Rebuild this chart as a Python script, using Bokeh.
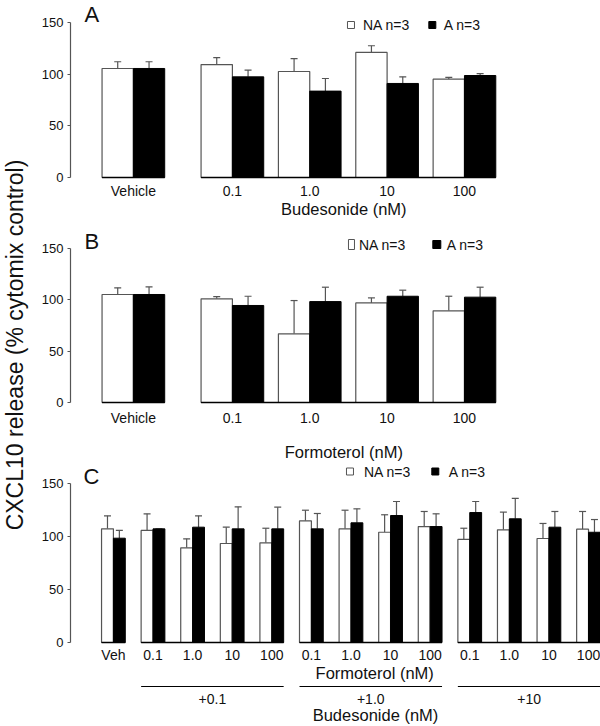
import math
from bokeh.plotting import figure
from bokeh.layouts import row, column
from bokeh.models import Range1d, FixedTicker
from bokeh.core.properties import value
from bokeh.embed import file_html
from bokeh.resources import INLINE

# ---------------- data ----------------
cats_ab = ["Vehicle", "0.1", "1.0", "10", "100"]

# Panel A: Budesonide
a_na = [105.5, 109.3, 102.6, 121.0, 95.2]
a_na_err = [6.5, 6.7, 12.4, 6.5, 1.6]
a_a = [105.5, 97.4, 83.6, 91.0, 98.7]
a_a_err = [6.5, 6.6, 12.2, 6.4, 1.9]

# Panel B: Formoterol
b_na = [105.2, 101.0, 66.9, 97.0, 89.3]
b_na_err = [6.5, 2.2, 32.4, 4.9, 14.2]
b_a = [105.2, 94.5, 98.3, 103.5, 102.6]
b_a_err = [7.4, 9.0, 14.0, 5.9, 9.7]

# Panel C: Formoterol + Budesonide
cats_c = ["Veh", "0.1", "1.0", "10", "100", "0.1", "1.0", "10", "100",
          "0.1", "1.0", "10", "100"]
c_na = [107.2, 105.7, 89.3, 93.4, 94.0, 114.8, 107.2, 104.0, 109.4,
        97.2, 106.3, 98.1, 106.9]
c_na_err = [12.3, 15.7, 8.5, 15.4, 13.8, 10.0, 17.6, 16.5, 14.2,
            10.6, 16.7, 14.2, 16.7]
c_a = [98.4, 107.2, 108.8, 107.2, 107.2, 107.2, 112.9, 119.8, 109.4,
       122.6, 116.7, 108.8, 104.0]
c_a_err = [7.3, 0.0, 10.7, 20.8, 20.5, 14.5, 13.2, 13.2, 12.0,
           10.4, 19.3, 14.8, 12.0]
bud_sets = ["+0.1", "+1.0", "+10"]

legend_labels = ["NA n=3", "A n=3"]
panel_letters = ["A", "B", "C"]
y_ticks = [0, 50, 100, 150]
y_title = "CXCL10 release (% cytomix control)"
x_title_a = "Budesonide (nM)"
x_title_b = "Formoterol (nM)"
x_title_c1 = "Formoterol (nM)"
x_title_c2 = "Budesonide (nM)"

# ---------------- layout helpers (pixel geometry of the page) ----------------
FONT = "Liberation Sans"
FIG_LEFT = 38
FRAME_LEFT = 69
RIGHT = 600
TXT = "#111111"
GREY = "#555555"


def make_panel(top, height, y150, y0, x0_abs, ppx):
    ppu = (y0 - y150) / 150.0
    y_end = 150 + (y150 - top) / ppu
    y_start = -(top + height - y0) / ppu
    x_start = -(x0_abs - FRAME_LEFT) / ppx
    x_end = x_start + (RIGHT - FRAME_LEFT) / ppx
    p = figure(width=RIGHT - FIG_LEFT, height=height,
               x_range=Range1d(x_start, x_end), y_range=Range1d(y_start, y_end),
               output_backend="svg", toolbar_location=None,
               x_axis_location=None,
               min_border_left=FRAME_LEFT - FIG_LEFT, min_border_right=0,
               min_border_top=0, min_border_bottom=0)
    p.outline_line_color = None
    p.grid.visible = False
    ax = p.yaxis[0]
    ax.ticker = FixedTicker(ticks=y_ticks)
    ax.bounds = (0, 150)
    ax.axis_line_color = GREY
    ax.axis_line_width = 1.2
    ax.major_tick_line_color = GREY
    ax.major_tick_out = 3
    ax.major_tick_in = 0
    ax.minor_tick_line_color = None
    ax.major_label_standoff = 4
    ax.major_label_text_font = FONT
    ax.major_label_text_font_size = "13px"
    ax.major_label_text_color = TXT

    def X(px):
        return x_start + (px - FRAME_LEFT) / ppx

    def Y(py):
        return y_end - (py - top) / ppu

    return p, X, Y


def draw_bars(p, xc, bw, cap, na, na_err, a, a_err):
    xw = [x - bw / 2 for x in xc]
    xb = [x + bw / 2 for x in xc]
    for xs, v, e in ((xw, na, na_err), (xb, a, a_err)):
        tops = [vi + ei for vi, ei in zip(v, e)]
        p.segment(x0=xs, y0=v, x1=xs, y1=tops, line_color=GREY, line_width=1.2)
        p.segment(x0=[x - cap for x in xs], y0=tops, x1=[x + cap for x in xs],
                  y1=tops, line_color=GREY, line_width=1.2)
    p.vbar(x=xw, width=bw, top=na, bottom=0, fill_color="white",
           line_color=GREY, line_width=1.2)
    p.vbar(x=xb, width=bw, top=a, bottom=0, fill_color="black",
           line_color="black", line_width=1.0)


def txt(p, x, y, s, size, align="left"):
    p.text(x=[x], y=[y], text=[s], text_font=value(FONT), text_font_size=size,
           text_color=TXT, text_align=align, text_baseline="middle")


def legend(p, X, Y, ymid, wsq, tna, bsq, ta, white_wh=(7, 7), black_wh=(7, 7)):
    p.rect(x=[X(wsq)], y=[Y(ymid)], width=white_wh[0], height=white_wh[1],
           width_units="screen", height_units="screen",
           fill_color="white", line_color=GREY, line_width=1.0)
    p.rect(x=[X(bsq)], y=[Y(ymid)], width=black_wh[0], height=black_wh[1],
           width_units="screen", height_units="screen",
           fill_color="black", line_color="black")
    txt(p, X(tna), Y(ymid), legend_labels[0], "14px")
    txt(p, X(ta), Y(ymid), legend_labels[1], "14px")


# ---------------- panel A & B ----------------
def panel_ab(top, height, y150, y0, na, na_err, a, a_err, letter, title,
             cat_mid, title_mid, letter_mid, leg):
    ppx = 77.5
    p, X, Y = make_panel(top, height, y150, y0, 132, ppx)
    xc = [0.0] + [1.28 + i for i in range(len(cats_ab) - 1)]
    bw = 0.405
    draw_bars(p, xc, bw, 3.5 / ppx, na, na_err, a, a_err)
    p.segment(x0=[xc[0] - bw, xc[1] - bw], y0=[0, 0],
              x1=[xc[0] + bw, xc[-1] + bw], y1=[0, 0],
              line_color="black", line_width=1.6)
    p.text(x=xc, y=[Y(cat_mid)] * len(xc), text=cats_ab,
           text_font=value(FONT), text_font_size="14px", text_color=TXT,
           text_align="center", text_baseline="middle")
    txt(p, (xc[2] + xc[3]) / 2 - 0.06, Y(title_mid), title, "16.5px", "center")
    txt(p, X(83), Y(letter_mid), letter, "22px")
    legend(p, X, Y, *leg)
    return p


hA, hB, hC = 226, 236, 264
pA = panel_ab(0, hA, 22, 177, a_na, a_na_err, a_a, a_a_err,
              panel_letters[0], x_title_a, 190, 208.5, 14,
              (24.5, 350, 362, 431.5, 443))
pB = panel_ab(hA, hB, 248, 402, b_na, b_na_err, b_a, b_a_err,
              panel_letters[1], x_title_b, 417, 451.5, 241,
              (244, 350.5, 358, 436, 446, (6, 10), (8, 8)))

# ---------------- panel C ----------------
topC = hA + hB
ppxC = (588 - 112) / 12.0
pC, XC, YC = make_panel(topC, hC, 483, 642, 112, ppxC)
xcC = [float(i) for i in range(len(cats_c))]
bwC = 0.30
draw_bars(pC, xcC, bwC, 3.5 / ppxC, c_na, c_na_err, c_a, c_a_err)
seg_start = [0, 1, 5, 9]
seg_end = [0, 4, 8, 12]
pC.segment(x0=[xcC[s] - bwC for s in seg_start], y0=[0] * 4,
           x1=[xcC[e] + bwC for e in seg_end], y1=[0] * 4,
           line_color="black", line_width=1.6)
pC.text(x=xcC, y=[YC(654)] * len(xcC), text=cats_c,
        text_font=value(FONT), text_font_size="14px", text_color=TXT,
        text_align="center", text_baseline="middle")
pC.segment(x0=[xcC[s] - bwC for s in seg_start[1:]], y0=[YC(686)] * 3,
           x1=[xcC[e] + bwC for e in seg_end[1:]], y1=[YC(686)] * 3,
           line_color="black", line_width=1.0)
mids = [(xcC[s] + xcC[e]) / 2 for s, e in zip(seg_start[1:], seg_end[1:])]
pC.text(x=mids, y=[YC(698)] * 3, text=bud_sets, text_font=value(FONT),
        text_font_size="14px", text_color=TXT, text_align="center",
        text_baseline="middle")
txt(pC, mids[1] + 0.1, YC(672.5), x_title_c1, "16.5px", "center")
txt(pC, mids[1] + 0.12, YC(714), x_title_c2, "16.5px", "center")
txt(pC, XC(82), YC(476), panel_letters[2], "22px")
legend(pC, XC, YC, 471, 349, 363, 434.5, 448)

# ---------------- y title ----------------
H = hA + hB + hC
labfig = figure(width=FIG_LEFT, height=H, x_range=Range1d(0, FIG_LEFT),
                y_range=Range1d(0, H), output_backend="svg",
                toolbar_location=None, x_axis_location=None, y_axis_location=None,
                min_border=0)
labfig.outline_line_color = None
labfig.grid.visible = False
labfig.text(x=[14.5], y=[H - 344.5], text=[y_title], angle=math.pi / 2,
            text_font=value(FONT), text_font_size="23px", text_color=TXT,
            text_align="center", text_baseline="middle")

layout = row(labfig, column(pA, pB, pC, spacing=0), spacing=0)
open("out.html", "w").write(file_html(layout, INLINE))
